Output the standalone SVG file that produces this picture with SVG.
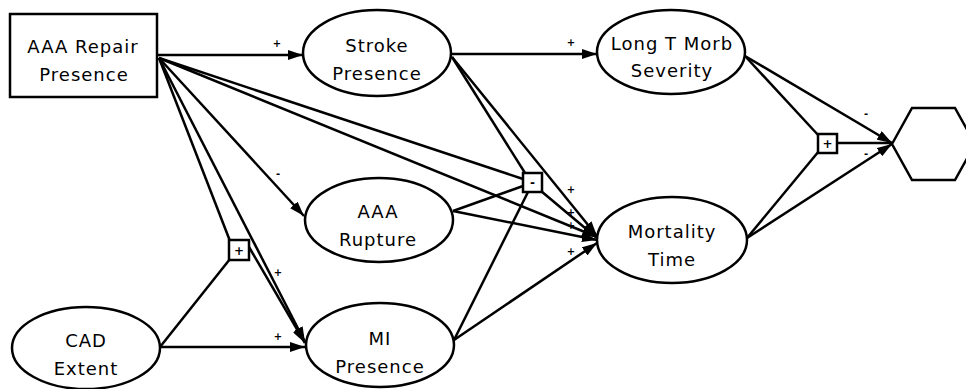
<svg xmlns="http://www.w3.org/2000/svg" width="966" height="389" viewBox="0 0 966 389">
  <style>
    .node { fill: #fff; stroke: #000; stroke-width: 2.5; }
    .box { fill: #fff; stroke: #000; stroke-width: 2.5; }
    .edge { fill: none; stroke: #000; stroke-width: 2.5; }
    .arr { marker-end: url(#head); }
    .lbl { font-family: "DejaVu Sans", "Liberation Sans", sans-serif; font-size: 18px; letter-spacing: 1px; fill: #000; text-anchor: middle; }
    .sign { font-family: "DejaVu Sans", "Liberation Sans", sans-serif; font-size: 10px; font-weight: bold; fill: #000; text-anchor: middle; }
    .mark { font-family: "DejaVu Sans", "Liberation Sans", sans-serif; font-size: 12px; font-weight: bold; fill: #000; text-anchor: middle; }
  </style>
  <defs>
    <marker id="head" markerUnits="userSpaceOnUse" markerWidth="15" markerHeight="10" refX="15" refY="5" orient="auto">
      <path d="M0,0 L15,5 L0,10 z" fill="#000"/>
    </marker>
  </defs>

  <!-- influence arcs -->
  <g id="connectors">
    <!-- from AAA Repair Presence -->
    <line class="edge arr" x1="158" y1="55" x2="303" y2="55"/>
    <line class="edge" x1="159" y1="58" x2="523" y2="179"/>
    <line class="edge arr" x1="159" y1="58" x2="597" y2="237"/>
    <line class="edge arr" x1="159" y1="58" x2="304" y2="216"/>
    <line class="edge" x1="159" y1="58" x2="230" y2="241"/>
    <line class="edge arr" x1="159" y1="58" x2="305" y2="342"/>
    <!-- from CAD Extent -->
    <line class="edge" x1="160" y1="347" x2="230" y2="259"/>
    <line class="edge arr" x1="160" y1="347" x2="305" y2="347"/>
    <!-- interaction node into MI Presence -->
    <line class="edge arr" x1="249" y1="247" x2="305" y2="343"/>
    <!-- from Stroke Presence -->
    <line class="edge arr" x1="452" y1="54" x2="597" y2="54"/>
    <line class="edge" x1="452" y1="57" x2="525" y2="173"/>
    <line class="edge arr" x1="452" y1="57" x2="597" y2="236"/>
    <!-- from AAA Rupture -->
    <line class="edge" x1="453" y1="211" x2="523" y2="186"/>
    <line class="edge arr" x1="453" y1="211" x2="597" y2="240"/>
    <!-- interaction node into Mortality Time -->
    <line class="edge arr" x1="541" y1="191" x2="597" y2="238"/>
    <!-- from MI Presence -->
    <line class="edge" x1="454" y1="340" x2="528" y2="192"/>
    <line class="edge arr" x1="454" y1="340" x2="597" y2="243"/>
    <!-- from Long T Morb Severity -->
    <line class="edge" x1="745" y1="56" x2="819" y2="136"/>
    <line class="edge arr" x1="745" y1="56" x2="892" y2="143"/>
    <!-- from Mortality Time -->
    <line class="edge" x1="747" y1="238" x2="819" y2="151"/>
    <line class="edge arr" x1="747" y1="238" x2="892" y2="144"/>
    <!-- interaction node into value -->
    <line class="edge" x1="837" y1="143" x2="892" y2="143"/>
  </g>

  <!-- arc signs -->
  <g id="signs">
    <text class="sign" x="277" y="47">+</text>
    <text class="sign" x="571" y="46">+</text>
    <text class="sign" x="278" y="177">-</text>
    <text class="sign" x="278" y="276">+</text>
    <text class="sign" x="278" y="340">+</text>
    <text class="sign" x="571" y="193">+</text>
    <text class="sign" x="571" y="216">+</text>
    <text class="sign" x="571" y="229">+</text>
    <text class="sign" x="571" y="255">+</text>
    <text class="sign" x="866" y="117">-</text>
    <text class="sign" x="866" y="157">-</text>
  </g>

  <g id="aaa-repair-presence">
    <rect class="node" x="10" y="14" width="147" height="83"/>
    <text class="lbl" x="83" y="53">AAA Repair</text>
    <text class="lbl" x="84" y="81">Presence</text>
  </g>

  <g id="stroke-presence">
    <ellipse class="node" cx="377" cy="53" rx="74" ry="43"/>
    <text class="lbl" x="377" y="52">Stroke</text>
    <text class="lbl" x="377" y="80">Presence</text>
  </g>

  <g id="long-t-morb-severity">
    <ellipse class="node" cx="671" cy="52" rx="74" ry="42"/>
    <text class="lbl" x="672" y="50">Long T Morb</text>
    <text class="lbl" x="672" y="77">Severity</text>
  </g>

  <g id="aaa-rupture">
    <ellipse class="node" cx="379" cy="220" rx="74" ry="42"/>
    <text class="lbl" x="378" y="218">AAA</text>
    <text class="lbl" x="378" y="246">Rupture</text>
  </g>

  <g id="mortality-time">
    <ellipse class="node" cx="672" cy="240" rx="75" ry="43"/>
    <text class="lbl" x="672" y="238">Mortality</text>
    <text class="lbl" x="672" y="266">Time</text>
  </g>

  <g id="mi-presence">
    <ellipse class="node" cx="380" cy="345" rx="74" ry="42"/>
    <text class="lbl" x="380" y="345">MI</text>
    <text class="lbl" x="380" y="373">Presence</text>
  </g>

  <g id="cad-extent">
    <ellipse class="node" cx="86" cy="348" rx="74" ry="41"/>
    <text class="lbl" x="86" y="347">CAD</text>
    <text class="lbl" x="86" y="375">Extent</text>
  </g>

  <g id="value">
    <polygon class="node" points="892,144 912,108 955,108 975,144 955,180 912,180"/>
  </g>

  <g id="interaction-cad-repair">
    <rect class="box" x="229" y="240" width="20" height="20"/>
    <text class="mark" x="239" y="254.5">+</text>
  </g>

  <g id="interaction-mortality">
    <rect class="box" x="523" y="173" width="19" height="19"/>
    <text class="mark" x="532.5" y="186.5">-</text>
  </g>

  <g id="interaction-value">
    <rect class="box" x="818" y="134" width="19" height="19"/>
    <text class="mark" x="827.5" y="148">+</text>
  </g>
</svg>
